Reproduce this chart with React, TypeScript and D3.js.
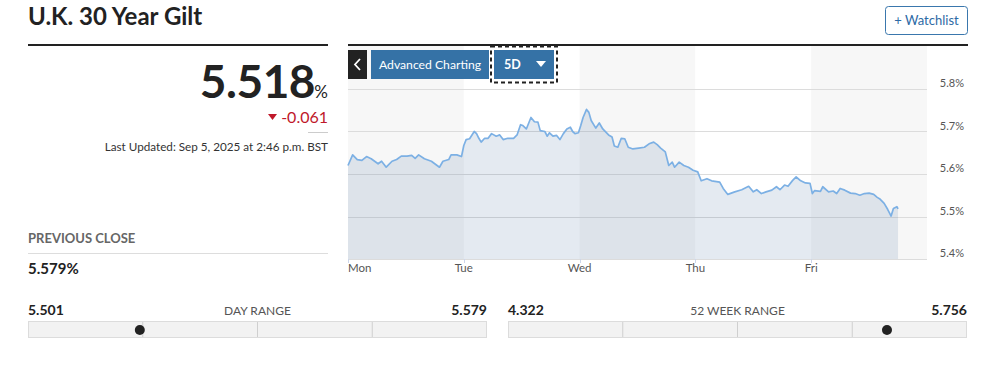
import * as d3 from 'd3'

const days = ['Mon', 'Tue', 'Wed', 'Thu', 'Fri']
const yTicks = [5.4, 5.5, 5.6, 5.7, 5.8]

// time in trading days since Monday's open, yield in %
const times = [
  0.0, 0.04, 0.08, 0.12, 0.16, 0.2, 0.26, 0.29, 0.33, 0.38, 0.42, 0.46, 0.51, 0.55, 0.58, 0.61, 0.66, 0.72,
  0.79, 0.82, 0.87, 0.89, 0.94, 0.98, 1.0, 1.02, 1.05, 1.09, 1.11, 1.13, 1.15, 1.18, 1.21, 1.24, 1.28, 1.31,
  1.34, 1.38, 1.43, 1.46, 1.49, 1.51, 1.54, 1.58, 1.61, 1.64, 1.66, 1.7, 1.72, 1.74, 1.77, 1.8, 1.83, 1.86,
  1.89, 1.92, 1.94, 1.96, 1.99, 2.01, 2.03, 2.06, 2.08, 2.1, 2.14, 2.17, 2.2, 2.25, 2.28, 2.3, 2.33, 2.36,
  2.39, 2.42, 2.46, 2.51, 2.56, 2.6, 2.64, 2.67, 2.7, 2.74, 2.77, 2.8, 2.82, 2.86, 2.9, 2.94, 2.98, 3.02,
  3.05, 3.1, 3.14, 3.21, 3.24, 3.28, 3.34, 3.4, 3.46, 3.5, 3.53, 3.57, 3.61, 3.66, 3.7, 3.73, 3.77, 3.8,
  3.84, 3.87, 3.91, 3.95, 3.99, 4.01, 4.03, 4.08, 4.1, 4.15, 4.19, 4.22, 4.25, 4.29, 4.34, 4.38, 4.42, 4.46,
  4.5, 4.54, 4.57, 4.59, 4.63, 4.66, 4.69, 4.71, 4.74, 4.75,
]
const yields = [
  5.62, 5.645, 5.634, 5.632, 5.641, 5.636, 5.624, 5.63, 5.616, 5.63, 5.634, 5.642, 5.642, 5.644, 5.637, 5.645,
  5.636, 5.63, 5.616, 5.63, 5.634, 5.645, 5.645, 5.641, 5.667, 5.681, 5.683, 5.7, 5.695, 5.684, 5.675, 5.684,
  5.684, 5.695, 5.689, 5.692, 5.681, 5.684, 5.684, 5.692, 5.716, 5.714, 5.706, 5.733, 5.723, 5.722, 5.702, 5.7,
  5.689, 5.697, 5.689, 5.691, 5.681, 5.695, 5.706, 5.71, 5.7, 5.695, 5.697, 5.714, 5.733, 5.752, 5.745, 5.726,
  5.708, 5.72, 5.706, 5.692, 5.687, 5.666, 5.663, 5.684, 5.683, 5.663, 5.659, 5.661, 5.663, 5.671, 5.675, 5.669,
  5.661, 5.652, 5.62, 5.628, 5.616, 5.628, 5.62, 5.616, 5.609, 5.605, 5.584, 5.589, 5.584, 5.581, 5.566, 5.552,
  5.558, 5.563, 5.571, 5.558, 5.563, 5.554, 5.558, 5.562, 5.57, 5.563, 5.574, 5.571, 5.585, 5.593, 5.584, 5.579,
  5.578, 5.554, 5.561, 5.559, 5.57, 5.558, 5.56, 5.554, 5.566, 5.562, 5.555, 5.554, 5.55, 5.554, 5.555, 5.552,
  5.545, 5.542, 5.531, 5.517, 5.501, 5.519, 5.523, 5.518,
]

const lastPrice = 5.518
const change = -0.061
const prevClose = 5.579
const dayRange = [5.501, 5.579]
const dayDot = 5.52
const weekRange = [4.322, 5.756]
const weekDot = 5.506

const FONT = 'Lato, "Open Sans", sans-serif'

function RangeBar({ x0, x1, lo, hi, dot, label }: { x0: number; x1: number; lo: number; hi: number; dot: number; label: string }) {
  const s = d3.scaleLinear().domain([lo, hi]).range([x0, x1])
  const seg = d3.range(1, 4).map(i => x0 + ((x1 - x0) * i) / 4)
  return (
    <g>
      <text x={x0} y={315} fontSize={14} fontWeight={700} fill="#222">{lo.toFixed(3)}</text>
      <text x={(x0 + x1) / 2} y={315} fontSize={12} fill="#555" textAnchor="middle">{label}</text>
      <text x={x1} y={315} fontSize={14} fontWeight={700} fill="#222" textAnchor="end">{hi.toFixed(3)}</text>
      <rect x={x0 + 0.5} y={321.5} width={x1 - x0 - 1} height={16} fill="#f2f2f2" stroke="#dcdcdc" />
      {seg.map(sx => (
        <line key={sx} x1={sx} x2={sx} y1={322} y2={337} stroke="#cfcfcf" />
      ))}
      <circle cx={s(dot)} cy={330} r={5} fill="#222" />
    </g>
  )
}

export default function App() {
  const x = d3.scaleLinear().domain([0, 5]).range([348, 927])
  const y = d3.scaleLinear().domain([5.4, 5.8]).range([259, 89])
  const pts = times.map((t, i) => [t, yields[i]] as [number, number])

  const line = d3.line<[number, number]>().x(d => x(d[0])).y(d => y(d[1]))
  const area = d3
    .area<[number, number]>()
    .x(d => x(d[0]))
    .y0(y(5.4))
    .y1(d => y(d[1]))

  return (
    <div style={{ position: 'absolute', left: 0, top: 0 }}>
      <svg width={981} height={367} style={{ display: 'block', fontFamily: FONT }}>
        <rect width={981} height={367} fill="#fff" />

        {/* left panel */}
        <text x={28} y={25} fontSize={24} fontWeight={700} fill="#222">U.K. 30 Year Gilt</text>
        <line x1={28} x2={328} y1={45} y2={45} stroke="#222" strokeWidth={2} />
        <text x={315} y={98} fontSize={46} fontWeight={700} fill="#222" textAnchor="end" letterSpacing={-0.5}>
          {lastPrice.toFixed(3)}
        </text>
        <text x={328} y={98} fontSize={17} fill="#222" textAnchor="end">%</text>
        <path d="M268,114 L277,114 L272.5,120 Z" fill="#c0182a" />
        <text x={328} y={123} fontSize={16} fill="#c0182a" textAnchor="end">{change.toFixed(3)}</text>
        <line x1={308} x2={328} y1={132.5} y2={132.5} stroke="#ccc" />
        <text x={328} y={151} fontSize={11.7} fill="#333" textAnchor="end">
          Last Updated: Sep 5, 2025 at 2:46 p.m. BST
        </text>

        <text x={28} y={243} fontSize={13} fontWeight={700} fill="#666">PREVIOUS CLOSE</text>
        <line x1={28} x2={328} y1={253.5} y2={253.5} stroke="#ddd" />
        <text x={28} y={274} fontSize={15} fontWeight={700} fill="#222">{prevClose.toFixed(3)}%</text>

        {/* watchlist */}
        <rect x={885.5} y={6.5} width={82} height={28} rx={3} fill="#fff" stroke="#3a77ad" />
        <text x={926.5} y={25} fontSize={13} fill="#2d6aa5" textAnchor="middle">+ Watchlist</text>

        {/* chart */}
        {days.map((d, i) => (
          <rect key={d} x={x(i)} y={46} width={x(i + 1) - x(i)} height={y(5.4) - 46} fill={i % 2 === 0 ? '#f7f7f7' : '#fff'} />
        ))}
        {yTicks.map(t => (
          <line key={t} x1={x(0)} x2={x(5)} y1={Math.round(y(t)) + 0.5} y2={Math.round(y(t)) + 0.5} stroke="#dcdcdc" />
        ))}
        <path d={area(pts) || ''} fill="rgba(39,87,143,0.125)" />
        <path d={line(pts) || ''} fill="none" stroke="#7cb0e4" strokeWidth={1.7} strokeLinejoin="round" />
        {days.map((d, i) => (
          <line key={d} x1={Math.round(x(i)) + 0.5} x2={Math.round(x(i)) + 0.5} y1={y(5.4)} y2={y(5.4) + 4} stroke="#ccd6eb" />
        ))}
        {days.map((d, i) => (
          <text key={d} x={x(i)} y={272} fontSize={11.5} fill="#555" textAnchor={i === 0 ? 'start' : 'middle'}>{d}</text>
        ))}
        {yTicks.map(t => (
          <text key={t} x={964} y={y(t) - 2} fontSize={11} fill="#555" textAnchor="end">{t.toFixed(1)}%</text>
        ))}
        <line x1={348} x2={968} y1={45} y2={45} stroke="#222" strokeWidth={2} />

        {/* chart buttons */}
        <rect x={348} y={50} width={19} height={29} fill="#222" />
        <path d="M360,59 L355,64.5 L360,70" fill="none" stroke="#fff" strokeWidth={1.8} />
        <rect x={371} y={50} width={118} height={29} fill="#3572a6" />
        <text x={430} y={69} fontSize={12.2} fill="#fff" textAnchor="middle">Advanced Charting</text>
        <rect x={494} y={50} width={60} height={29} fill="#3572a6" />
        <text x={504} y={69} fontSize={12.5} fontWeight={700} fill="#fff">5D</text>
        <path d="M536,61 L546,61 L541,67 Z" fill="#fff" />
        <rect x={491} y={46.5} width={66} height={36} fill="none" stroke="#222" strokeWidth={2} strokeDasharray="4,3" />

        {/* ranges */}
        <RangeBar x0={28} x1={487} lo={dayRange[0]} hi={dayRange[1]} dot={dayDot} label="DAY RANGE" />
        <RangeBar x0={508} x1={967} lo={weekRange[0]} hi={weekRange[1]} dot={weekDot} label="52 WEEK RANGE" />
      </svg>
    </div>
  )
}
